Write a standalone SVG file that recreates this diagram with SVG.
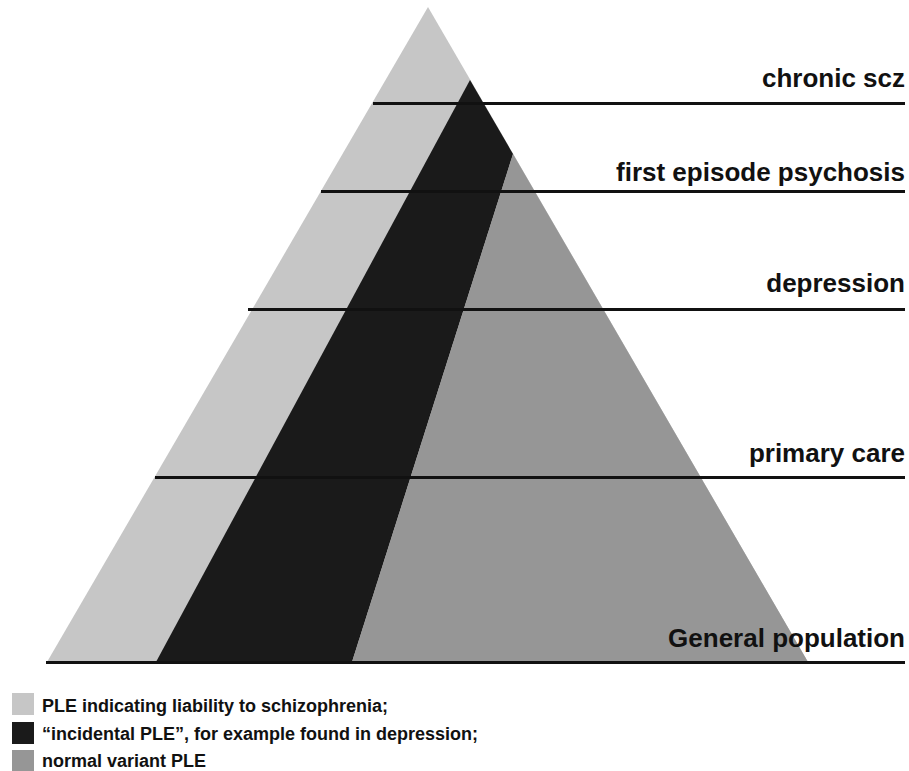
<svg xmlns="http://www.w3.org/2000/svg" width="909" height="771" viewBox="0 0 909 771">
<style>
.lbl{font-family:"Liberation Sans",Arial,sans-serif;font-weight:bold;font-size:26px;fill:#111;text-anchor:end}
.leg{font-family:"Liberation Sans",Arial,sans-serif;font-weight:bold;font-size:18px;fill:#111}
.lvl{stroke:#111;stroke-width:3.2;fill:none}
</style>
<rect width="909" height="771" fill="#fff"/>
<g id="pyramid">
<polygon points="428,7 808,662 47,662" fill="#c6c6c6"/>
<polygon points="470,80 513,154 352,662 156,662" fill="#1a1a1a"/>
<polygon points="513,154 808,662 352,662" fill="#969696"/>
</g>
<g id="connectors">
<line class="lvl" x1="373" y1="103.5" x2="905" y2="103.5"/>
<line class="lvl" x1="321" y1="191.5" x2="905" y2="191.5"/>
<line class="lvl" x1="248" y1="309.5" x2="905" y2="309.5"/>
<line class="lvl" x1="155" y1="477.5" x2="905" y2="477.5"/>
<line class="lvl" x1="46" y1="662.5" x2="905" y2="662.5"/>
</g>
<g id="chronic-scz"><text class="lbl" x="905" y="87">chronic scz</text></g>
<g id="first-episode"><text class="lbl" x="905" y="181">first episode psychosis</text></g>
<g id="depression"><text class="lbl" x="905" y="292">depression</text></g>
<g id="primary-care"><text class="lbl" x="905" y="462">primary care</text></g>
<g id="general-population"><text class="lbl" x="905" y="647">General population</text></g>
<g id="legend">
<rect x="12" y="693" width="22" height="22" fill="#c6c6c6"/>
<rect x="12" y="722" width="22" height="22" fill="#1a1a1a"/>
<rect x="12" y="750" width="22" height="22" fill="#969696"/>
<text class="leg" x="42" y="712">PLE indicating liability to schizophrenia;</text>
<text class="leg" x="42" y="740">“incidental PLE”, for example found in depression;</text>
<text class="leg" x="42" y="767">normal variant PLE</text>
</g>
</svg>
